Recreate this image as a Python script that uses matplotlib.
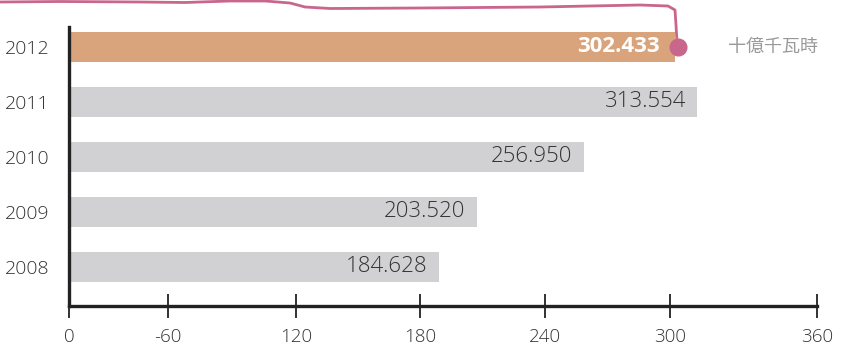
import matplotlib
matplotlib.use("Agg")
import matplotlib.pyplot as plt
from matplotlib.lines import Line2D

years = ["2008", "2009", "2010", "2011", "2012"]
values = [184.628, 203.520, 256.950, 313.554, 302.433]
value_labels = ["184.628", "203.520", "256.950", "313.554", "302.433"]
tick_positions = [0, 49.4, 113.3, 175.2, 237.6, 300, 373.4]
tick_labels = ["0", "-60", "120", "180", "240", "300", "360"]
unit_label = "十億千瓦時"

W, H = 845, 348
fig = plt.figure(figsize=(W / 100, H / 100), dpi=100)
ax = fig.add_axes([69 / W, 1 - 306 / H, (817 - 69) / W, (306 - 27) / H])

colors = ["#d1d1d3"] * 4 + ["#d9a47c"]
ypos = list(range(len(years)))
ax.barh(ypos, values, height=0.55, color=colors, zorder=2)

ax.set_xlim(0, 373.4)
ax.set_ylim(-0.71, 4.36)

for sp in ["top", "right"]:
    ax.spines[sp].set_visible(False)
for sp in ["left", "bottom"]:
    ax.spines[sp].set_linewidth(2.4)
    ax.spines[sp].set_color("#222222")
    ax.spines[sp].set_zorder(3)

fam = ["Open Sans", "DejaVu Sans"]
ax.set_xticks(tick_positions)
ax.set_xticklabels(tick_labels, fontsize=13.5, color="#333333", family=fam, fontweight="light")
ax.tick_params(axis="x", direction="inout", length=17, width=1.3, color="#222222", pad=7)
ax.set_yticks(ypos)
ax.set_yticklabels(years, fontsize=14, color="#333333", family=fam, fontweight="light")
ax.tick_params(axis="y", length=0, pad=14)

for i, (v, lab) in enumerate(zip(values, value_labels)):
    if i == len(values) - 1:
        ax.annotate(lab, (v, i), xytext=(-11, 0), textcoords="offset points",
                    ha="right", va="center", fontsize=16, color="white", fontweight="bold",
                    family=fam, zorder=4)
    else:
        ax.annotate(lab, (v, i), xytext=(-8, 0), textcoords="offset points",
                    ha="right", va="center", fontsize=16, color="#333333", fontweight="light",
                    family=fam, zorder=4)

# unit label
ax.annotate(unit_label, (values[-1], 4), xytext=(38, 0), textcoords="offset points",
            ha="left", va="center", fontsize=13, color="#999999",
            family=["Noto Sans CJK JP", "DejaVu Sans"], annotation_clip=False)

# pink hand-drawn annotation line
pink = "#c9668b"
px = [0, 60, 140, 185, 230, 265, 290, 305, 330, 420, 540, 640, 668, 675, 676, 677]
py = [2, 1.5, 2, 2.5, 1, 1, 3, 7, 8.5, 8, 7, 5, 6, 10, 25, 42]
fig.add_artist(Line2D([x / W for x in px], [1 - y / H for y in py], color=pink, lw=2,
                      transform=fig.transFigure, solid_capstyle="round"))
ax.plot([values[-1] + 1.8], [4], "o", color=pink, ms=12, clip_on=False, zorder=5)

fig.savefig("out.png", dpi=100)
